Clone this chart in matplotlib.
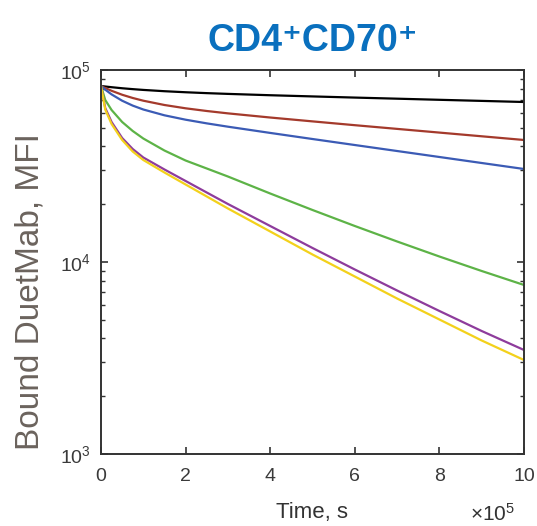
import matplotlib
matplotlib.use("Agg")
import matplotlib.pyplot as plt

plt.rcParams['font.family'] = ['Liberation Sans', 'DejaVu Sans']
plt.rcParams['mathtext.default'] = 'regular'

# time in units of 1e5 s
time = [0, 0.1, 0.25, 0.5, 0.75, 1, 1.5, 2, 2.5, 3, 4, 5, 6, 7, 8, 9, 10]

black  = [82540, 82040, 81360, 80340, 79490, 78750, 77540, 76580, 75770, 75090,
          73890, 72840, 71840, 70890, 69950, 69040, 68130]
brown  = [82540, 80540, 77930, 74320, 71490, 69200, 65720, 63170, 61160, 59450,
          56560, 54000, 51590, 49350, 47210, 45160, 43200]
blue   = [82540, 79000, 74630, 69180, 65240, 62270, 58080, 55100, 52730, 50670,
          47020, 43710, 40670, 37850, 35230, 32780, 30510]
green  = [82540, 69800, 61900, 53610, 48120, 43970, 38070, 33770, 30690, 27880,
          22740, 18660, 15400, 12790, 10680, 8977, 7591]
purple = [82540, 63410, 53610, 44240, 38760, 35020, 30330, 26420, 23010, 20050,
          15400, 11830, 9140, 7104, 5557, 4371, 3481]
yellow = [82540, 62270, 52340, 43200, 37620, 33980, 29250, 25330, 21940, 19000,
          14420, 10940, 8403, 6453, 5018, 3901, 3087]

series = [
    (black, '#000000'),
    (brown, '#A43A2C'),
    (blue, '#3B5BB5'),
    (green, '#5DB347'),
    (purple, '#8E3C9C'),
    (yellow, '#F3D11B'),
]

xticks = [0, 2, 4, 6, 8, 10]
xticklabels = ['0', '2', '4', '6', '8', '10']
yticks = [1e3, 1e4, 1e5]
yticklabels = ['$10^{3}$', '$10^{4}$', '$10^{5}$']

fig = plt.figure(figsize=(5.37, 5.26), dpi=100)
ax = fig.add_axes([101/537, 1-454/526, 423/537, 384/526])

for vals, c in series:
    ax.plot(time, vals, color=c, lw=1.6)

ax.set_yscale('log')
ax.set_xlim(0, 10)
ax.set_ylim(1e3, 1e5)
ax.set_xticks(xticks)
ax.set_xticklabels(xticklabels)
ax.set_yticks(yticks)
ax.set_yticklabels(yticklabels)

tick_col = '#3a3a3a'
ax.tick_params(axis='both', which='both', direction='in', top=True, right=True,
               colors='#333333', labelcolor=tick_col, labelsize=14)
ax.tick_params(axis='both', which='major', length=5, width=1.2)
ax.tick_params(axis='y', which='minor', length=3, width=1.0)
ax.tick_params(axis='x', which='major', pad=10)
ax.tick_params(axis='y', which='major', pad=7)
for s in ax.spines.values():
    s.set_color('#333333')
    s.set_linewidth(1.4)

ax.set_xlabel('Time, s', fontsize=16, color='#333333', labelpad=12)
ax.set_ylabel('Bound DuetMab, MFI', fontsize=24, color='#6B635D')
ax.yaxis.set_label_coords(-0.168, 0.423)
ax.yaxis.label.set_va('center')
ax.set_title('CD4\u207aCD70\u207a', fontsize=27, color='#0A70BE',
             fontweight='bold', pad=14)
fig.text(493/537, 1-514/526, r'$\times10^{5}$', fontsize=15, color='#333333',
         ha='center', va='center')

fig.savefig('out.png', dpi=100)
